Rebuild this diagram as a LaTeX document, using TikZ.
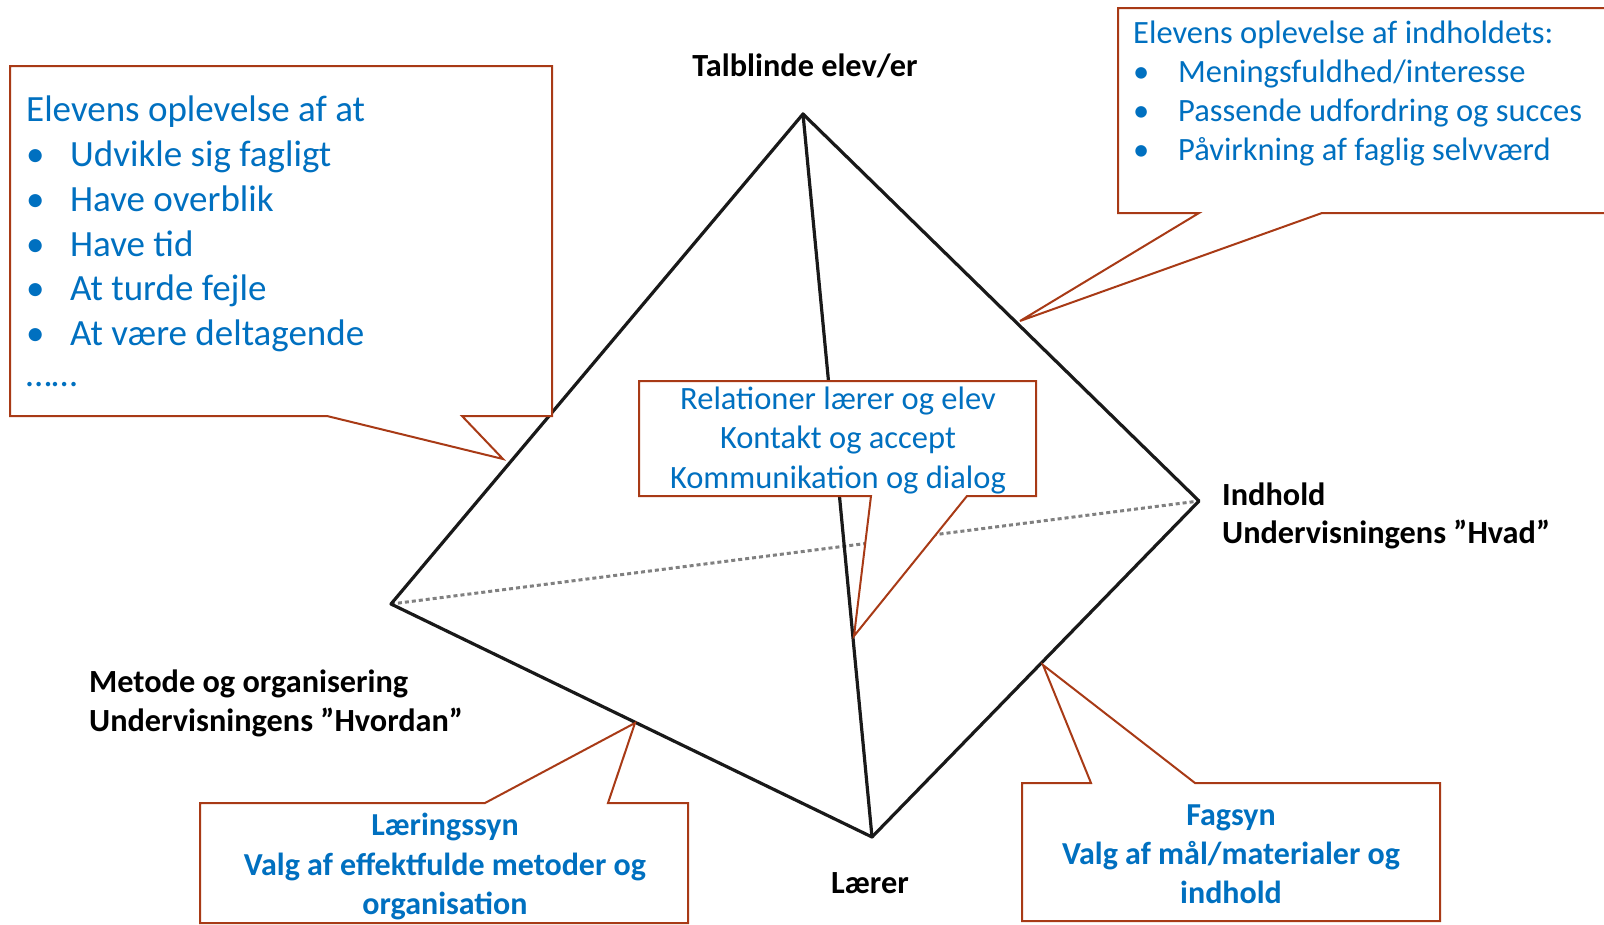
\documentclass[tikz,border=0pt]{standalone}
\usepackage{fontspec}
\setmainfont{Carlito}
\definecolor{txtblue}{RGB}{0,112,192}
\definecolor{calbrd}{RGB}{168,58,22}
\definecolor{edgec}{RGB}{25,25,25}
\tikzset{
  edge/.style={draw=edgec, line width=3.2pt, line join=round, line cap=round},
  hidden/.style={draw=black!50, line width=3pt, dash pattern=on 4pt off 3pt},
  callout/.style={draw=calbrd, fill=white, line width=2pt, line join=miter},
  bluetext/.style={text=txtblue, inner sep=0pt, font=\fontsize{32.5}{39}\selectfont},
  bigblue/.style={text=txtblue, inner sep=0pt, font=\fontsize{37}{44}\selectfont},
  boldblue/.style={text=txtblue, inner sep=0pt, font=\fontsize{32}{39}\selectfont\bfseries},
  label/.style={text=black, inner sep=0pt, font=\fontsize{32.3}{39}\selectfont\bfseries},
}
\begin{document}
\begin{tikzpicture}[x=1pt,y=-1pt]
\useasboundingbox (0,0) rectangle (1604,924);
% tetrahedron vertices
\coordinate (T) at (803,114);
\coordinate (L) at (391,604);
\coordinate (R) at (1199,501);
\coordinate (B) at (872,837);
\draw[hidden] (L) -- (R);
\draw[edge] (T) -- (B);
\draw[edge] (T) -- (L) -- (B) -- (R) -- cycle;

% top-left callout
\draw[callout] (10,66) -- (552,66) -- (552,416) -- (462,416) -- (503,459) -- (327,416) -- (10,416) -- cycle;
\node[bigblue, anchor=base west] (tl0) at (26,121) {Elevens oplevelse af at};
\node[bigblue, anchor=base west] (tl1) at (26,166) {\makebox[44pt][l]{•}Udvikle sig fagligt};
\node[bigblue, anchor=base west] (tl2) at (26,211) {\makebox[44pt][l]{•}Have overblik};
\node[bigblue, anchor=base west] (tl3) at (26,256) {\makebox[44pt][l]{•}Have tid};
\node[bigblue, anchor=base west] (tl4) at (26,300) {\makebox[44pt][l]{•}At turde fejle};
\node[bigblue, anchor=base west] (tl5) at (26,345) {\makebox[44pt][l]{•}At være deltagende};
\node[bigblue, anchor=base west] (tl6) at (26,386) {……};

% top-right callout
\draw[callout] (1118,8) -- (1620,8) -- (1620,213) -- (1322,213) -- (1020,321) -- (1199,213) -- (1118,213) -- cycle;
\node[bluetext, anchor=base west] (tr0) at (1133,43) {Elevens oplevelse af indholdets:};
\node[bluetext, anchor=base west] (tr1) at (1133,82) {\makebox[45pt][l]{•}Meningsfuldhed/interesse};
\node[bluetext, anchor=base west] (tr2) at (1133,121) {\makebox[45pt][l]{•}Passende udfordring og succes};
\node[bluetext, anchor=base west] (tr3) at (1133,160) {\makebox[45pt][l]{•}Påvirkning af faglig selvværd};

% centre callout
\draw[callout] (639,381) -- (1036,381) -- (1036,496) -- (967,496) -- (854,636) -- (871,496) -- (639,496) -- cycle;
\node[bluetext, anchor=base] (c1) at (838,409) {Relationer lærer og elev};
\node[bluetext, anchor=base] (c2) at (838,448) {Kontakt og accept};
\node[bluetext, anchor=base] (c3) at (838,488) {Kommunikation og dialog};

% bottom-left callout
\draw[callout] (200,803) -- (485,803) -- (635,723) -- (608,803) -- (688,803) -- (688,923) -- (200,923) -- cycle;
\node[boldblue, anchor=base] (bl1) at (445,835) {Læringssyn};
\node[boldblue, anchor=base] (bl2) at (445,875) {Valg af effektfulde metoder og};
\node[boldblue, anchor=base] (bl3) at (445,914) {organisation};

% bottom-right callout
\draw[callout] (1022,783) -- (1091,783) -- (1043,665) -- (1195,783) -- (1440,783) -- (1440,921) -- (1022,921) -- cycle;
\node[boldblue, anchor=base] (br1) at (1231,825) {Fagsyn};
\node[boldblue, anchor=base] (br2) at (1231,864) {Valg af mål/materialer og};
\node[boldblue, anchor=base] (br3) at (1231,903) {indhold};

% vertex labels
\node[label, anchor=base] (lt) at (805,76) {Talblinde elev/er};
\node[label, anchor=base west] (lr1) at (1222,505) {Indhold};
\node[label, anchor=base west] (lr2) at (1222,543) {Undervisningens ”Hvad”};
\node[label, anchor=base west] (ll1) at (89,692) {Metode og organisering};
\node[label, anchor=base west] (ll2) at (89,731) {Undervisningens ”Hvordan”};
\node[label, anchor=base] (lb) at (870,893) {Lærer};
\end{tikzpicture}
\end{document}
